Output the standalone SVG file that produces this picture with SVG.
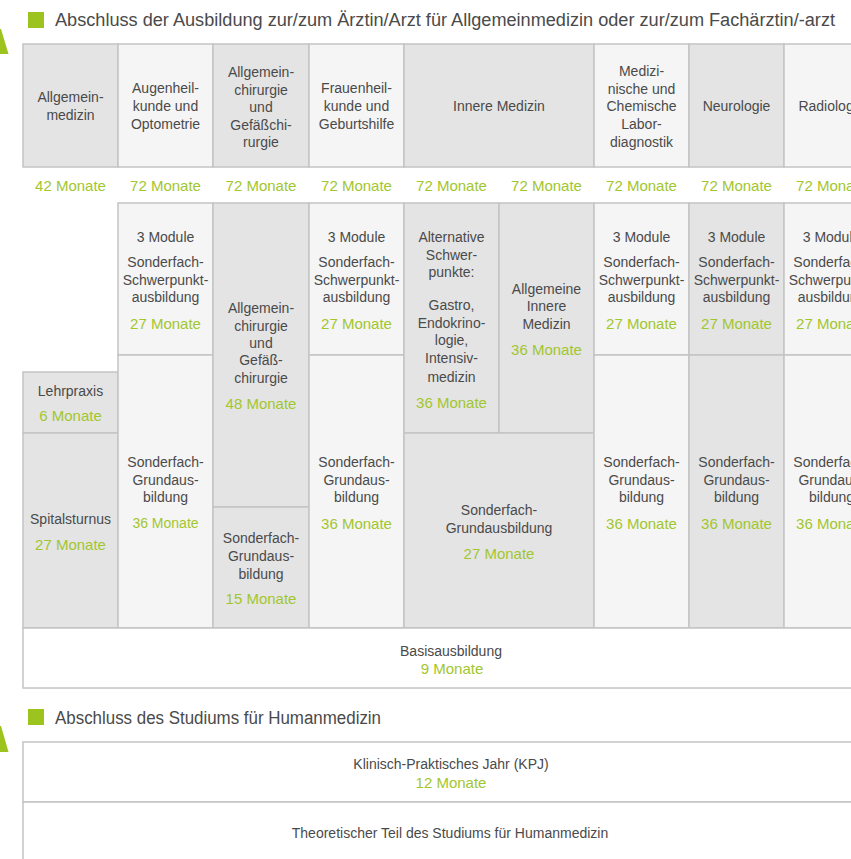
<svg xmlns="http://www.w3.org/2000/svg" width="851" height="859" viewBox="0 0 851 859">
<style>
  .c { stroke: #c4c4c4; stroke-width: 1.5; }
  .g { fill: #e4e4e4; }
  .l { fill: #f5f5f5; }
  .w { fill: #ffffff; }
  text { font-family: "Liberation Sans", Arial, sans-serif; text-anchor: middle; }
  .t { fill: #4a4a4a; font-size: 14px; }
  .m { fill: #a2c62e; font-size: 15px; }
  .h { fill: #4a4a4a; font-size: 18px; text-anchor: start; }
  .acc { fill: #9cc31e; }
</style>
<rect width="851" height="859" fill="#ffffff"/>

<g id="title1">
  <polygon class="acc" points="0,29 1,29 8.5,54 0,54"/>
  <rect class="acc" x="28" y="12" width="16" height="16"/>
  <text class="h" x="55" y="26" textLength="780" lengthAdjust="spacingAndGlyphs">Abschluss der Ausbildung zur/zum Ärztin/Arzt für Allgemeinmedizin oder zur/zum Fachärztin/-arzt</text>
</g>

<!-- header row -->
<g id="h-allgemeinmedizin">
  <rect class="c g" x="23" y="44" width="95" height="123"/>
  <text class="t" x="70.5" y="102">Allgemein-</text>
  <text class="t" x="70.5" y="119.5">medizin</text>
</g>
<g id="h-augen">
  <rect class="c l" x="118" y="44" width="95" height="123"/>
  <text class="t" x="165.5" y="93">Augenheil-</text>
  <text class="t" x="165.5" y="111">kunde und</text>
  <text class="t" x="165.5" y="129">Optometrie</text>
</g>
<g id="h-chirurgie">
  <rect class="c g" x="213" y="44" width="96" height="123"/>
  <text class="t" x="261" y="77">Allgemein-</text>
  <text class="t" x="261" y="94.5">chirurgie</text>
  <text class="t" x="261" y="112">und</text>
  <text class="t" x="261" y="129.5">Gefäßchi-</text>
  <text class="t" x="261" y="147">rurgie</text>
</g>
<g id="h-frauen">
  <rect class="c l" x="309" y="44" width="95" height="123"/>
  <text class="t" x="356.5" y="93">Frauenheil-</text>
  <text class="t" x="356.5" y="111">kunde und</text>
  <text class="t" x="356.5" y="129">Geburtshilfe</text>
</g>
<g id="h-innere">
  <rect class="c g" x="404" y="44" width="190" height="123"/>
  <text class="t" x="499" y="111">Innere Medizin</text>
</g>
<g id="h-labor">
  <rect class="c l" x="594" y="44" width="95" height="123"/>
  <text class="t" x="641.5" y="76">Medizi-</text>
  <text class="t" x="641.5" y="94">nische und</text>
  <text class="t" x="641.5" y="111">Chemische</text>
  <text class="t" x="641.5" y="129">Labor-</text>
  <text class="t" x="641.5" y="146.5">diagnostik</text>
</g>
<g id="h-neuro">
  <rect class="c g" x="689" y="44" width="95" height="123"/>
  <text class="t" x="736.5" y="111">Neurologie</text>
</g>
<g id="h-radio">
  <rect class="c l" x="784" y="44" width="95" height="123"/>
  <text class="t" x="831.5" y="111">Radiologie</text>
</g>

<g id="durations">
  <text class="m" x="70.5" y="191">42 Monate</text>
  <text class="m" x="165.5" y="191">72 Monate</text>
  <text class="m" x="261" y="191">72 Monate</text>
  <text class="m" x="356.5" y="191">72 Monate</text>
  <text class="m" x="451.5" y="191">72 Monate</text>
  <text class="m" x="546.5" y="191">72 Monate</text>
  <text class="m" x="641.5" y="191">72 Monate</text>
  <text class="m" x="736.5" y="191">72 Monate</text>
  <text class="m" x="831.5" y="191">72 Monate</text>
</g>

<!-- column 0: Allgemeinmedizin -->
<g id="lehrpraxis">
  <rect class="c g" x="23" y="372" width="95" height="61"/>
  <text class="t" x="70.5" y="396">Lehrpraxis</text>
  <text class="m" x="70.5" y="420.5">6 Monate</text>
</g>
<g id="spitalsturnus">
  <rect class="c g" x="23" y="433" width="95" height="195"/>
  <text class="t" x="70.5" y="524">Spitalsturnus</text>
  <text class="m" x="70.5" y="549.5">27 Monate</text>
</g>

<!-- column 1: Augen -->
<g id="augen-schwerpunkt">
  <rect class="c l" x="118" y="203" width="95" height="152"/>
  <text class="t" x="165.5" y="242">3 Module</text>
  <text class="t" x="165.5" y="267">Sonderfach-</text>
  <text class="t" x="165.5" y="285">Schwerpunkt-</text>
  <text class="t" x="165.5" y="302">ausbildung</text>
  <text class="m" x="165.5" y="328.5">27 Monate</text>
</g>
<g id="augen-grund">
  <rect class="c l" x="118" y="355" width="95" height="273"/>
  <text class="t" x="165.5" y="467">Sonderfach-</text>
  <text class="t" x="165.5" y="485">Grundaus-</text>
  <text class="t" x="165.5" y="502">bildung</text>
  <text class="m" x="165.5" y="528" style="font-size:14px">36 Monate</text>
</g>

<!-- column 2: Chirurgie -->
<g id="chir-main">
  <rect class="c g" x="213" y="203" width="96" height="304"/>
  <text class="t" x="261" y="313">Allgemein-</text>
  <text class="t" x="261" y="331">chirurgie</text>
  <text class="t" x="261" y="348">und</text>
  <text class="t" x="261" y="365">Gefäß-</text>
  <text class="t" x="261" y="383">chirurgie</text>
  <text class="m" x="261" y="408.5">48 Monate</text>
</g>
<g id="chir-grund">
  <rect class="c g" x="213" y="507" width="96" height="121"/>
  <text class="t" x="261" y="543">Sonderfach-</text>
  <text class="t" x="261" y="561">Grundaus-</text>
  <text class="t" x="261" y="579">bildung</text>
  <text class="m" x="261" y="603.5">15 Monate</text>
</g>

<!-- column 3: Frauen -->
<g id="frauen-schwerpunkt">
  <rect class="c l" x="309" y="203" width="95" height="152"/>
  <text class="t" x="356.5" y="242">3 Module</text>
  <text class="t" x="356.5" y="267">Sonderfach-</text>
  <text class="t" x="356.5" y="285">Schwerpunkt-</text>
  <text class="t" x="356.5" y="302">ausbildung</text>
  <text class="m" x="356.5" y="328.5">27 Monate</text>
</g>
<g id="frauen-grund">
  <rect class="c l" x="309" y="355" width="95" height="273"/>
  <text class="t" x="356.5" y="467">Sonderfach-</text>
  <text class="t" x="356.5" y="485">Grundaus-</text>
  <text class="t" x="356.5" y="502">bildung</text>
  <text class="m" x="356.5" y="528.5">36 Monate</text>
</g>

<!-- column 4: Innere -->
<g id="innere-alt">
  <rect class="c g" x="404" y="203" width="95" height="230"/>
  <text class="t" x="451.5" y="242">Alternative</text>
  <text class="t" x="451.5" y="260">Schwer-</text>
  <text class="t" x="451.5" y="277">punkte:</text>
  <text class="t" x="451.5" y="310">Gastro,</text>
  <text class="t" x="451.5" y="328">Endokrino-</text>
  <text class="t" x="451.5" y="345">logie,</text>
  <text class="t" x="451.5" y="363">Intensiv-</text>
  <text class="t" x="451.5" y="382">medizin</text>
  <text class="m" x="451.5" y="407.5">36 Monate</text>
</g>
<g id="innere-allg">
  <rect class="c g" x="499" y="203" width="95" height="230"/>
  <text class="t" x="546.5" y="294">Allgemeine</text>
  <text class="t" x="546.5" y="311">Innere</text>
  <text class="t" x="546.5" y="329">Medizin</text>
  <text class="m" x="546.5" y="354.5">36 Monate</text>
</g>
<g id="innere-grund">
  <rect class="c g" x="404" y="433" width="190" height="195"/>
  <text class="t" x="499" y="515">Sonderfach-</text>
  <text class="t" x="499" y="533">Grundausbildung</text>
  <text class="m" x="499" y="558.5">27 Monate</text>
</g>

<!-- column 5: Labor -->
<g id="labor-schwerpunkt">
  <rect class="c l" x="594" y="203" width="95" height="152"/>
  <text class="t" x="641.5" y="242">3 Module</text>
  <text class="t" x="641.5" y="267">Sonderfach-</text>
  <text class="t" x="641.5" y="285">Schwerpunkt-</text>
  <text class="t" x="641.5" y="302">ausbildung</text>
  <text class="m" x="641.5" y="328.5">27 Monate</text>
</g>
<g id="labor-grund">
  <rect class="c l" x="594" y="355" width="95" height="273"/>
  <text class="t" x="641.5" y="467">Sonderfach-</text>
  <text class="t" x="641.5" y="485">Grundaus-</text>
  <text class="t" x="641.5" y="502">bildung</text>
  <text class="m" x="641.5" y="528.5">36 Monate</text>
</g>

<!-- column 6: Neuro -->
<g id="neuro-schwerpunkt">
  <rect class="c g" x="689" y="203" width="95" height="152"/>
  <text class="t" x="736.5" y="242">3 Module</text>
  <text class="t" x="736.5" y="267">Sonderfach-</text>
  <text class="t" x="736.5" y="285">Schwerpunkt-</text>
  <text class="t" x="736.5" y="302">ausbildung</text>
  <text class="m" x="736.5" y="328.5">27 Monate</text>
</g>
<g id="neuro-grund">
  <rect class="c g" x="689" y="355" width="95" height="273"/>
  <text class="t" x="736.5" y="467">Sonderfach-</text>
  <text class="t" x="736.5" y="485">Grundaus-</text>
  <text class="t" x="736.5" y="502">bildung</text>
  <text class="m" x="736.5" y="528.5">36 Monate</text>
</g>

<!-- column 7: Radio -->
<g id="radio-schwerpunkt">
  <rect class="c l" x="784" y="203" width="95" height="152"/>
  <text class="t" x="831.5" y="242">3 Module</text>
  <text class="t" x="831.5" y="267">Sonderfach-</text>
  <text class="t" x="831.5" y="285">Schwerpunkt-</text>
  <text class="t" x="831.5" y="302">ausbildung</text>
  <text class="m" x="831.5" y="328.5">27 Monate</text>
</g>
<g id="radio-grund">
  <rect class="c l" x="784" y="355" width="95" height="273"/>
  <text class="t" x="831.5" y="467">Sonderfach-</text>
  <text class="t" x="831.5" y="485">Grundaus-</text>
  <text class="t" x="831.5" y="502">bildung</text>
  <text class="m" x="831.5" y="528.5">36 Monate</text>
</g>

<g id="basisausbildung">
  <rect class="c w" x="23" y="628" width="856" height="60"/>
  <text class="t" x="451" y="656">Basisausbildung</text>
  <text class="m" x="452" y="673.5">9 Monate</text>
</g>

<g id="title2">
  <polygon class="acc" points="0,726 1,726 8.5,752 0,752"/>
  <rect class="acc" x="28" y="709" width="16" height="16"/>
  <text class="h" x="55" y="723.5" textLength="326" lengthAdjust="spacingAndGlyphs">Abschluss des Studiums für Humanmedizin</text>
</g>

<g id="kpj">
  <rect class="c w" x="23" y="742" width="856" height="60"/>
  <text class="t" x="451" y="769">Klinisch-Praktisches Jahr (KPJ)</text>
  <text class="m" x="451" y="787.5">12 Monate</text>
</g>
<g id="theorie">
  <rect class="c w" x="23" y="802" width="856" height="70"/>
  <text class="t" x="450" y="838">Theoretischer Teil des Studiums für Humanmedizin</text>
</g>
</svg>
